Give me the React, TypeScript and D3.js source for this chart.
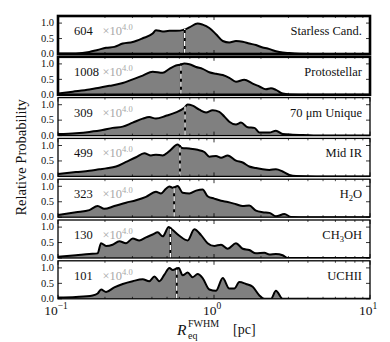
import * as d3 from 'd3'

// panel labels, source counts and median sizes (pc)
const categories = ['Starless Cand.', 'Protostellar', '70 μm Unique', 'Mid IR', 'H_2O', 'CH_3OH', 'UCHII']
const counts = [604, 1008, 309, 499, 323, 130, 101]
const medians = [0.649, 0.614, 0.652, 0.605, 0.555, 0.525, 0.577]
const xTickLabels = [['10', '−1'], ['10', '0'], ['10', '1']]
const yTicks = [0, 0.5, 1.0]

// [log10 R_eq (pc), relative probability]
const starless = [[-1, 0.02], [-0.885, 0.02], [-0.799, 0.065], [-0.746, 0.13], [-0.692, 0.2], [-0.639, 0.23], [-0.585, 0.34], [-0.521, 0.39], [-0.457, 0.51], [-0.393, 0.66], [-0.372, 0.77], [-0.329, 0.73], [-0.286, 0.75], [-0.244, 0.75], [-0.19, 0.79], [-0.158, 0.86], [-0.105, 0.99], [-0.073, 0.95], [-0.03, 0.84], [0.013, 0.64], [0.056, 0.42], [0.098, 0.37], [0.141, 0.42], [0.184, 0.4], [0.226, 0.34], [0.269, 0.29], [0.312, 0.21], [0.344, 0.18], [0.376, 0.12], [0.419, 0.065], [0.483, 0.03], [0.547, 0.01], [0.697, 0], [1, 0]]
const protostellar = [[-1, 0.04], [-0.906, 0.1], [-0.799, 0.17], [-0.735, 0.23], [-0.671, 0.29], [-0.585, 0.38], [-0.521, 0.5], [-0.457, 0.62], [-0.393, 0.75], [-0.329, 0.71], [-0.286, 0.84], [-0.244, 0.95], [-0.218, 0.97], [-0.19, 1.01], [-0.158, 0.99], [-0.115, 0.9], [-0.073, 0.84], [-0.03, 0.73], [0.013, 0.68], [0.056, 0.64], [0.098, 0.55], [0.141, 0.42], [0.194, 0.49], [0.248, 0.36], [0.291, 0.27], [0.333, 0.18], [0.365, 0.21], [0.397, 0.16], [0.44, 0.04], [0.483, 0.01], [0.611, 0], [1, 0]]
const unique70 = [[-1, 0.05], [-0.885, 0.08], [-0.799, 0.12], [-0.714, 0.18], [-0.65, 0.25], [-0.585, 0.29], [-0.521, 0.42], [-0.457, 0.55], [-0.415, 0.6], [-0.372, 0.55], [-0.308, 0.64], [-0.244, 0.75], [-0.19, 0.9], [-0.169, 1.01], [-0.137, 0.97], [-0.094, 0.84], [-0.051, 0.75], [-0.009, 0.82], [0.034, 0.77], [0.066, 0.62], [0.098, 0.45], [0.141, 0.36], [0.173, 0.42], [0.216, 0.27], [0.259, 0.25], [0.291, 0.1], [0.355, 0.1], [0.397, 0.16], [0.44, 0.05], [0.504, 0.03], [0.568, 0.02], [0.697, 0], [1, 0]]
const midIR = [[-1, 0.08], [-0.885, 0.14], [-0.799, 0.18], [-0.735, 0.23], [-0.692, 0.26], [-0.628, 0.32], [-0.564, 0.47], [-0.5, 0.62], [-0.447, 0.75], [-0.404, 0.68], [-0.372, 0.7], [-0.329, 0.68], [-0.286, 0.82], [-0.233, 1.03], [-0.205, 0.92], [-0.158, 0.9], [-0.105, 0.86], [-0.062, 0.79], [-0.03, 0.64], [0.013, 0.66], [0.045, 0.6], [0.088, 0.68], [0.141, 0.51], [0.184, 0.45], [0.226, 0.32], [0.269, 0.27], [0.312, 0.23], [0.355, 0.21], [0.397, 0.23], [0.44, 0.16], [0.483, 0.05], [0.526, 0.01], [0.654, 0], [1, 0]]
const h2o = [[-1, 0.07], [-0.885, 0.16], [-0.799, 0.23], [-0.746, 0.36], [-0.703, 0.27], [-0.639, 0.36], [-0.564, 0.47], [-0.5, 0.55], [-0.436, 0.66], [-0.372, 0.82], [-0.34, 0.77], [-0.308, 0.92], [-0.286, 0.99], [-0.261, 0.95], [-0.233, 1.01], [-0.201, 0.79], [-0.158, 0.77], [-0.115, 0.86], [-0.073, 0.9], [-0.041, 0.68], [0.002, 0.6], [0.045, 0.53], [0.088, 0.49], [0.141, 0.42], [0.184, 0.36], [0.226, 0.38], [0.269, 0.21], [0.312, 0.16], [0.355, 0.14], [0.397, 0.03], [0.451, 0.1], [0.494, 0.01], [0.611, 0], [1, 0]]
const ch3oh = [[-1, 0.04], [-0.885, 0.09], [-0.799, 0.13], [-0.746, 0.15], [-0.724, 0.48], [-0.692, 0.39], [-0.65, 0.43], [-0.607, 0.54], [-0.564, 0.48], [-0.521, 0.63], [-0.479, 0.57], [-0.436, 0.67], [-0.393, 0.76], [-0.361, 0.83], [-0.329, 0.7], [-0.29, 1.0], [-0.27, 0.93], [-0.222, 0.72], [-0.169, 0.57], [-0.126, 0.93], [-0.083, 0.74], [-0.041, 0.48], [0.002, 0.39], [0.045, 0.43], [0.088, 0.3], [0.141, 0.48], [0.184, 0.3], [0.226, 0.26], [0.269, 0.15], [0.323, 0.17], [0.355, 0.11], [0.397, 0.13], [0.44, 0.09], [0.472, 0], [1, 0]]
const uchii = [[-1, 0.04], [-0.885, 0.06], [-0.778, 0.11], [-0.746, 0.17], [-0.724, 0.3], [-0.692, 0.22], [-0.639, 0.37], [-0.585, 0.48], [-0.521, 0.57], [-0.457, 0.63], [-0.415, 0.57], [-0.382, 0.72], [-0.35, 0.57], [-0.318, 0.78], [-0.286, 1.0], [-0.265, 0.93], [-0.226, 1.0], [-0.201, 0.76], [-0.169, 0.85], [-0.137, 0.7], [-0.105, 0.8], [-0.073, 0.67], [-0.03, 0.3], [0.013, 0.26], [0.056, 0.67], [0.098, 0.33], [0.13, 0.33], [0.162, 0.54], [0.205, 0.48], [0.248, 0.39], [0.291, 0.11], [0.323, 0], [0.365, 0], [0.397, 0.26], [0.44, 0], [1, 0]]

const curves = [starless, protostellar, unique70, midIR, h2o, ch3oh, uchii]

const W = 390
const H = 342
const left = 58
const right = 370
const firstTop = 16
const pitch = 40.8
const panelH = 38
const font = '"Liberation Serif", "Times New Roman", serif'

function Label({ text, x, y }: { text: string; x: number; y: number }) {
  // "_d" -> subscript digit
  const parts = text.split(/_(\d)/)
  return (
    <text x={x} y={y} textAnchor="end" fontSize={12.5} fontFamily={font} fill="#111">
      {parts.map((p, i) =>
        i % 2 === 1 ? (
          <tspan key={i} fontSize={8.5} dy={3}>{p}</tspan>
        ) : (
          <tspan key={i} dy={i > 0 ? -3 : 0}>{p}</tspan>
        )
      )}
    </text>
  )
}

export default function App() {
  const x = d3.scaleLog().domain([0.1, 10]).range([left, right])
  const majors = [0.1, 1, 10]
  const minors: number[] = []
  for (const dec of [0.1, 1]) for (let k = 2; k <= 9; k++) minors.push(dec * k)

  return (
    <svg width={W} height={H} style={{ position: 'absolute', left: 0, top: 0, background: '#fff' }}>
      {curves.map((data, i) => {
        const top = firstTop + i * pitch
        const bottom = top + panelH
        const y = d3.scaleLinear().domain([0, 1.23]).range([bottom, top])
        const area = d3.area<number[]>()
          .x(d => x(Math.pow(10, d[0])))
          .y0(bottom)
          .y1(d => y(d[1]))
          .curve(d3.curveMonotoneX)
        const line = d3.line<number[]>()
          .x(d => x(Math.pow(10, d[0])))
          .y(d => y(d[1]))
          .curve(d3.curveMonotoneX)
        const lm = Math.log10(medians[i])
        const j = data.findIndex(d => d[0] > lm)
        const a = data[j - 1]
        const b = data[j]
        const vm = a[1] + (b[1] - a[1]) * (lm - a[0]) / (b[0] - a[0])
        const xm = x(medians[i])
        const bw = i < 2 ? 2.6 : 1.3
        return (
          <g key={i}>
            <defs>
              <clipPath id={`clip${i}`}>
                <rect x={left} y={top} width={right - left} height={panelH} />
              </clipPath>
            </defs>
            <g clipPath={`url(#clip${i})`}>
              <path d={area(data) || ''} fill="#808080" />
              <path d={line(data) || ''} fill="none" stroke="#000" strokeWidth={2} strokeLinejoin="round" />
              <line x1={xm} x2={xm} y1={bottom} y2={y(vm) - 1} stroke="#000" strokeWidth={2} />
              <line x1={xm} x2={xm} y1={bottom} y2={y(vm) - 1} stroke="#fff" strokeWidth={1.4} strokeDasharray="5,3" />
            </g>
            {majors.map(t => (
              <g key={'M' + t}>
                <line x1={x(t)} x2={x(t)} y1={top} y2={top + 4} stroke="#000" strokeWidth={0.8} />
                <line x1={x(t)} x2={x(t)} y1={bottom} y2={bottom - 4} stroke="#000" strokeWidth={0.8} />
              </g>
            ))}
            {minors.map(t => (
              <g key={'m' + t}>
                <line x1={x(t)} x2={x(t)} y1={top} y2={top + 2} stroke="#000" strokeWidth={0.7} />
                <line x1={x(t)} x2={x(t)} y1={bottom} y2={bottom - 2} stroke="#000" strokeWidth={0.7} />
              </g>
            ))}
            {yTicks.map(t => (
              <g key={'y' + t}>
                <line x1={left} x2={left + 4} y1={y(t)} y2={y(t)} stroke="#000" strokeWidth={0.8} />
                <line x1={right} x2={right - 4} y1={y(t)} y2={y(t)} stroke="#000" strokeWidth={0.8} />
                <text x={left - 4} y={y(t) + 3.2} textAnchor="end" fontSize={10.5} fontFamily={font} fill="#111">
                  {t.toFixed(1)}
                </text>
              </g>
            ))}
            <rect x={left} y={top} width={right - left} height={panelH} fill="none" stroke="#000" strokeWidth={bw} />
            <text x={74} y={top + 19} fontSize={12.5} fontFamily={font} fill="#111">{counts[i]}</text>
            <text x={102.5} y={top + 19} fontSize={12.5} fontFamily={font} fill="#a8a8a8">
              ×10<tspan fontSize={8.5} dy={-5}>4.0</tspan>
            </text>
            <Label text={categories[i]} x={362} y={top + 19} />
          </g>
        )
      })}
      {majors.map((t, k) => (
        <text key={t} x={x(t) - 2} y={315} textAnchor="middle" fontSize={13.5} fontFamily={font} fill="#111">
          {xTickLabels[k][0]}
          <tspan fontSize={9.5} dy={-6}>{xTickLabels[k][1]}</tspan>
        </text>
      ))}
      <text x={177} y={335} fontSize={15.5} fontFamily={font} fontStyle="italic" fill="#111">R</text>
      <text x={188} y={327} fontSize={10} fontFamily={font} fill="#111">FWHM</text>
      <text x={188} y={339} fontSize={10} fontFamily={font} fill="#111">eq</text>
      <text x={233} y={334} fontSize={14} fontFamily={font} fill="#111">[pc]</text>
      <text
        transform={`translate(26,${firstTop + (6 * pitch + panelH) / 2}) rotate(-90)`}
        textAnchor="middle"
        fontSize={14.5}
        fontFamily={font}
        fill="#111"
      >
        Relative Probability
      </text>
    </svg>
  )
}
